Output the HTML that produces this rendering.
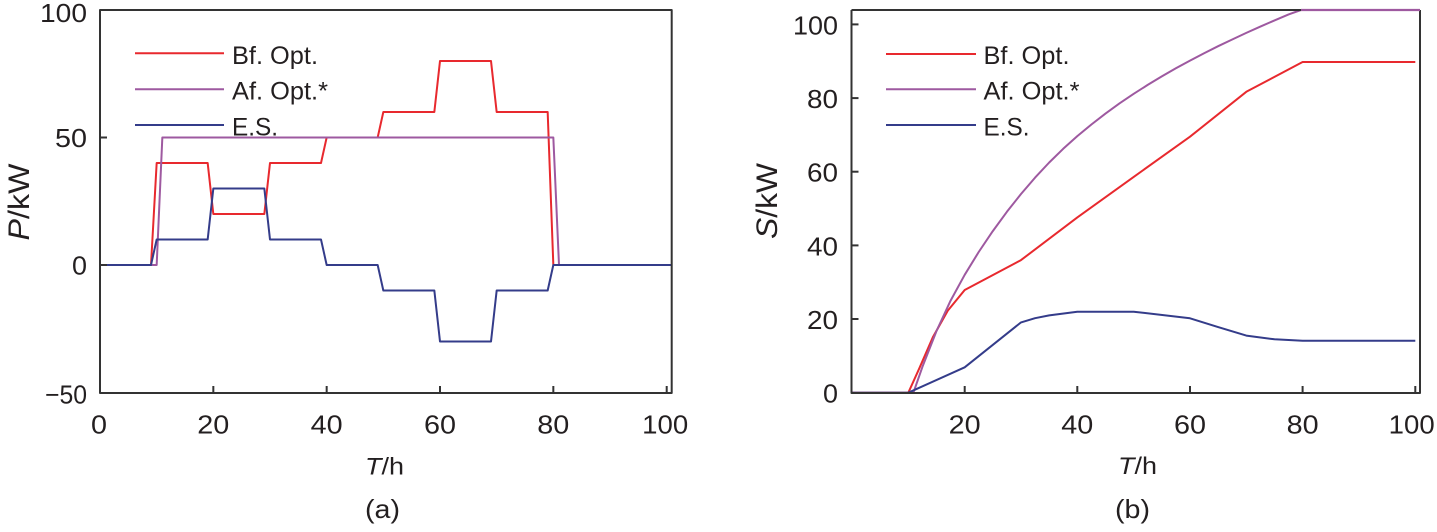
<!DOCTYPE html>
<html>
<head>
<meta charset="utf-8">
<style>
html,body{margin:0;padding:0;background:#fff;}
svg{display:block;}
text{font-family:"Liberation Sans",Arial,sans-serif;fill:#231f20;}
</style>
</head>
<body>
<svg width="1437" height="532" viewBox="0 0 1437 532" xmlns="http://www.w3.org/2000/svg">
  <!-- ============ LEFT PLOT (a) ============ -->
  <g fill="none" stroke-linejoin="round">
    <path stroke="#e8292e" stroke-width="2" d="M100,265 L151,265 L156.67,163 L207.67,163 L213.33,214 L264.33,214 L270,163 L321,163 L326.67,137.5 L377.67,137.5 L383.33,112 L434.33,112 L440,61 L491,61 L496.67,112 L547.67,112 L553.33,265 L671,265"/>
    <path stroke="#9e59a0" stroke-width="2" d="M100,265 L156.67,265 L162.33,137.5 L553.33,137.5 L559,265 L671,265"/>
    <path stroke="#343c8a" stroke-width="2" d="M100,265 L151,265 L156.67,239.5 L207.67,239.5 L213.33,188.5 L264.33,188.5 L270,239.5 L321,239.5 L326.67,265 L377.67,265 L383.33,290.5 L434.33,290.5 L440,341.5 L491,341.5 L496.67,290.5 L547.67,290.5 L553.33,265 L671,265"/>
    <rect x="100" y="10" width="571.7" height="383" stroke="#333" stroke-width="2"/>
    <g stroke="#333" stroke-width="2">
      <line x1="213.33" y1="393" x2="213.33" y2="386"/>
      <line x1="326.67" y1="393" x2="326.67" y2="386"/>
      <line x1="440" y1="393" x2="440" y2="386"/>
      <line x1="553.33" y1="393" x2="553.33" y2="386"/>
      <line x1="666.7" y1="393" x2="666.7" y2="386"/>
      <line x1="100" y1="137.5" x2="107" y2="137.5"/>
      <line x1="100" y1="265" x2="107" y2="265"/>
    </g>
    <line x1="135" y1="53.3" x2="224" y2="53.3" stroke="#e8292e" stroke-width="2"/>
    <line x1="135" y1="89.3" x2="224" y2="89.3" stroke="#9e59a0" stroke-width="2"/>
    <line x1="135" y1="125" x2="224" y2="125" stroke="#343c8a" stroke-width="2"/>
  </g>
  <g font-size="25">
    <text x="232" y="64" textLength="86" lengthAdjust="spacingAndGlyphs">Bf. Opt.</text>
    <text x="232" y="99.5" textLength="96" lengthAdjust="spacingAndGlyphs">Af. Opt.*</text>
    <text x="232" y="135.5" textLength="46" lengthAdjust="spacingAndGlyphs">E.S.</text>
  </g>
  <g font-size="26" text-anchor="end">
    <text x="87" y="22" textLength="47" lengthAdjust="spacingAndGlyphs">100</text>
    <text x="87" y="147" textLength="32" lengthAdjust="spacingAndGlyphs">50</text>
    <text x="87" y="274.5" textLength="15" lengthAdjust="spacingAndGlyphs">0</text>
    <text x="87" y="403.5" textLength="42" lengthAdjust="spacingAndGlyphs">−50</text>
  </g>
  <g font-size="26" text-anchor="middle">
    <text x="99" y="433.5" textLength="16" lengthAdjust="spacingAndGlyphs">0</text>
    <text x="213.3" y="433.5" textLength="32" lengthAdjust="spacingAndGlyphs">20</text>
    <text x="326.7" y="433.5" textLength="32" lengthAdjust="spacingAndGlyphs">40</text>
    <text x="440" y="433.5" textLength="32" lengthAdjust="spacingAndGlyphs">60</text>
    <text x="553.3" y="433.5" textLength="32" lengthAdjust="spacingAndGlyphs">80</text>
    <text x="665.2" y="433.5" textLength="46" lengthAdjust="spacingAndGlyphs">100</text>
  </g>
  <text x="384.5" y="474.5" font-size="24" text-anchor="middle" textLength="39" lengthAdjust="spacingAndGlyphs"><tspan font-style="italic">T</tspan>/h</text>
  <text x="382.5" y="518" font-size="26" text-anchor="middle" textLength="35" lengthAdjust="spacingAndGlyphs">(a)</text>
  <text transform="translate(29,202) rotate(-90)" font-size="30" text-anchor="middle" textLength="77" lengthAdjust="spacingAndGlyphs"><tspan font-style="italic">P</tspan>/kW</text>

  <!-- ============ RIGHT PLOT (b) ============ -->
  <g fill="none" stroke-linejoin="round">
    <path stroke="#e8292e" stroke-width="2" d="M852,392.7 L908.33,392.7 L919.6,367.7 L933.1,336.7 L947.8,310.6 L964.7,290 L1021,260.1 L1077.3,217.4 L1133.7,176.9 L1190,136.7 L1246.3,91.8 L1302.6,62 L1415.3,62"/>
    <path stroke="#9e59a0" stroke-width="2" d="M852,392.7 L913.4,392.7 L922.4,366.9 L936.5,331 L950.6,300.6 L964.7,274.8 L978.7,252 L992.8,231.1 L1006.9,211.8 L1021,194 L1035.1,177.6 L1049.2,162.5 L1063.2,148.8 L1077.3,136.1 L1091.4,124.5 L1105.5,113.6 L1119.6,103.3 L1133.7,93.8 L1147.7,84.9 L1161.8,76.4 L1175.9,68.3 L1190,60.6 L1204.1,53.2 L1218.1,46.2 L1232.2,39.5 L1246.3,32.9 L1260.4,26.6 L1274.5,20.4 L1288.6,14.4 L1301,10 L1420,10"/>
    <path stroke="#343c8a" stroke-width="2" d="M852,392.7 L908.33,392.7 L964.7,367.3 L1021,322.4 L1035,318.2 L1049.2,315.4 L1077.3,311.7 L1133.7,311.7 L1190,318.3 L1218.1,327.1 L1246.3,335.6 L1274.5,339.3 L1302.6,340.8 L1415.3,340.8"/>
    <path d="M851.5,10 L1301,10 M1420,10 L1420,393 L851.5,393 L851.5,10" stroke="#333" stroke-width="2"/>
    <path d="M1301,10 L1420,10" stroke="#9e59a0" stroke-width="2.2"/>
    <g stroke="#333" stroke-width="2">
      <line x1="964.7" y1="393" x2="964.7" y2="386"/>
      <line x1="1077.3" y1="393" x2="1077.3" y2="386"/>
      <line x1="1190" y1="393" x2="1190" y2="386"/>
      <line x1="1302.6" y1="393" x2="1302.6" y2="386"/>
      <line x1="1415.3" y1="393" x2="1415.3" y2="386"/>
      <line x1="851.5" y1="24.4" x2="858.5" y2="24.4"/>
      <line x1="851.5" y1="98.1" x2="858.5" y2="98.1"/>
      <line x1="851.5" y1="171.7" x2="858.5" y2="171.7"/>
      <line x1="851.5" y1="245.4" x2="858.5" y2="245.4"/>
      <line x1="851.5" y1="319" x2="858.5" y2="319"/>
    </g>
    <line x1="886" y1="54" x2="976" y2="54" stroke="#e8292e" stroke-width="2"/>
    <line x1="886" y1="89.3" x2="976" y2="89.3" stroke="#9e59a0" stroke-width="2"/>
    <line x1="886" y1="125" x2="976" y2="125" stroke="#343c8a" stroke-width="2"/>
  </g>
  <g font-size="25">
    <text x="983.5" y="64" textLength="86" lengthAdjust="spacingAndGlyphs">Bf. Opt.</text>
    <text x="983.5" y="99.5" textLength="96" lengthAdjust="spacingAndGlyphs">Af. Opt.*</text>
    <text x="983.5" y="135.5" textLength="46" lengthAdjust="spacingAndGlyphs">E.S.</text>
  </g>
  <g font-size="26" text-anchor="end">
    <text x="838" y="34.5" textLength="45" lengthAdjust="spacingAndGlyphs">100</text>
    <text x="838" y="108" textLength="31" lengthAdjust="spacingAndGlyphs">80</text>
    <text x="838" y="181.5" textLength="31" lengthAdjust="spacingAndGlyphs">60</text>
    <text x="838" y="255.3" textLength="31" lengthAdjust="spacingAndGlyphs">40</text>
    <text x="838" y="328.9" textLength="31" lengthAdjust="spacingAndGlyphs">20</text>
    <text x="838" y="402.5" textLength="15" lengthAdjust="spacingAndGlyphs">0</text>
  </g>
  <g font-size="26" text-anchor="middle">
    <text x="964.7" y="433.5" textLength="32" lengthAdjust="spacingAndGlyphs">20</text>
    <text x="1077.3" y="433.5" textLength="32" lengthAdjust="spacingAndGlyphs">40</text>
    <text x="1190" y="433.5" textLength="32" lengthAdjust="spacingAndGlyphs">60</text>
    <text x="1302.6" y="433.5" textLength="32" lengthAdjust="spacingAndGlyphs">80</text>
    <text x="1411.7" y="433.5" textLength="46" lengthAdjust="spacingAndGlyphs">100</text>
  </g>
  <text x="1137.5" y="474" font-size="24" text-anchor="middle" textLength="39" lengthAdjust="spacingAndGlyphs"><tspan font-style="italic">T</tspan>/h</text>
  <text x="1132.5" y="518" font-size="26" text-anchor="middle" textLength="35" lengthAdjust="spacingAndGlyphs">(b)</text>
  <text transform="translate(777,201) rotate(-90)" font-size="30" text-anchor="middle" textLength="76" lengthAdjust="spacingAndGlyphs"><tspan font-style="italic">S</tspan>/kW</text>
</svg>
</body>
</html>
